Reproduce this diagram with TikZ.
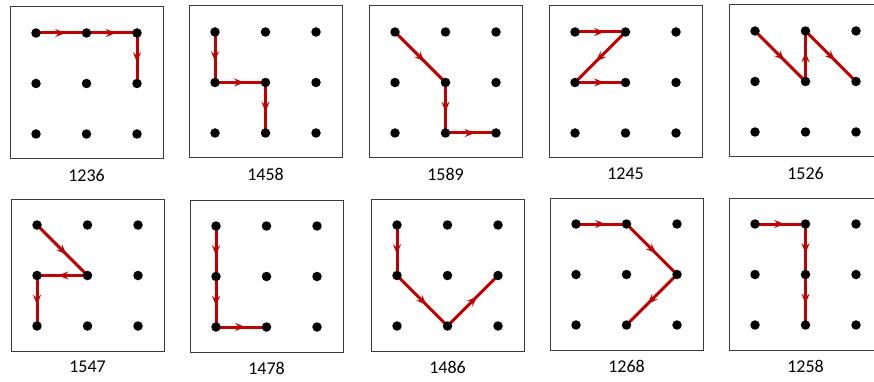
\documentclass[tikz,border=0pt]{standalone}
\usepackage{fontspec}
\setmainfont{Carlito}
\usetikzlibrary{arrows.meta,decorations.markings}
\definecolor{pathred}{HTML}{C00000}
\definecolor{boxgray}{HTML}{3A3A3A}
\tikzset{
  panelbox/.style={draw=boxgray,line width=1pt,minimum width=153pt,minimum height=152pt,inner sep=0pt},
  dot/.style={circle,fill=black,minimum size=9.5pt,inner sep=0pt},
  seg/.style={draw=pathred,line width=3pt,
    postaction={decorate},
    decoration={markings,mark=at position 0.58 with {\arrow[pathred]{Stealth[length=10pt,width=8pt,inset=3.5pt]}}}},
  lbl/.style={font=\fontsize{18}{21}\selectfont,inner sep=0pt}
}
\newcommand\gridpanel[5]{%
  \node[panelbox] (box#1) at (#2+76.5,#3+76) {};
  \foreach \i in {1,...,9}{%
    \pgfmathtruncatemacro\cc{mod(\i-1,3)}%
    \pgfmathtruncatemacro\rr{int((\i-1)/3)}%
    \coordinate (d#1-\i) at (#2+26+50.5*\cc,#3+26+50.5*\rr);
  }
  \foreach \a/\b in {#4}{\draw[seg] (d#1-\a) -- (d#1-\b);}
  \foreach \i in {1,...,9}{\node[dot] (n#1-\i) at (d#1-\i) {};}
  \node[lbl] (lab#1) at (#2+76.5,#3+168) {#5};
}
\begin{document}
\begin{tikzpicture}[x=1pt,y=-1pt]
\useasboundingbox (0,0) rectangle (874,382);
\clip (0,0) rectangle (874,382);
\fill[white] (0,0) rectangle (874,382);
\gridpanel{a}{10}{7}{1/2,2/3,3/6}{1236}
\gridpanel{b}{189}{6}{1/4,4/5,5/8}{1458}
\gridpanel{c}{369}{6}{1/5,5/8,8/9}{1589}
\gridpanel{d}{549}{6}{1/2,2/4,4/5}{1245}
\gridpanel{e}{729}{5}{1/5,5/2,2/6}{1526}
\gridpanel{f}{11}{199}{1/5,5/4,4/7}{1547}
\gridpanel{g}{190}{200}{1/4,4/7,7/8}{1478}
\gridpanel{h}{371}{199}{1/4,4/8,8/6}{1486}
\gridpanel{i}{550}{198}{1/2,2/6,6/8}{1268}
\gridpanel{j}{729}{198}{1/2,2/5,5/8}{1258}
\end{tikzpicture}
\end{document}
